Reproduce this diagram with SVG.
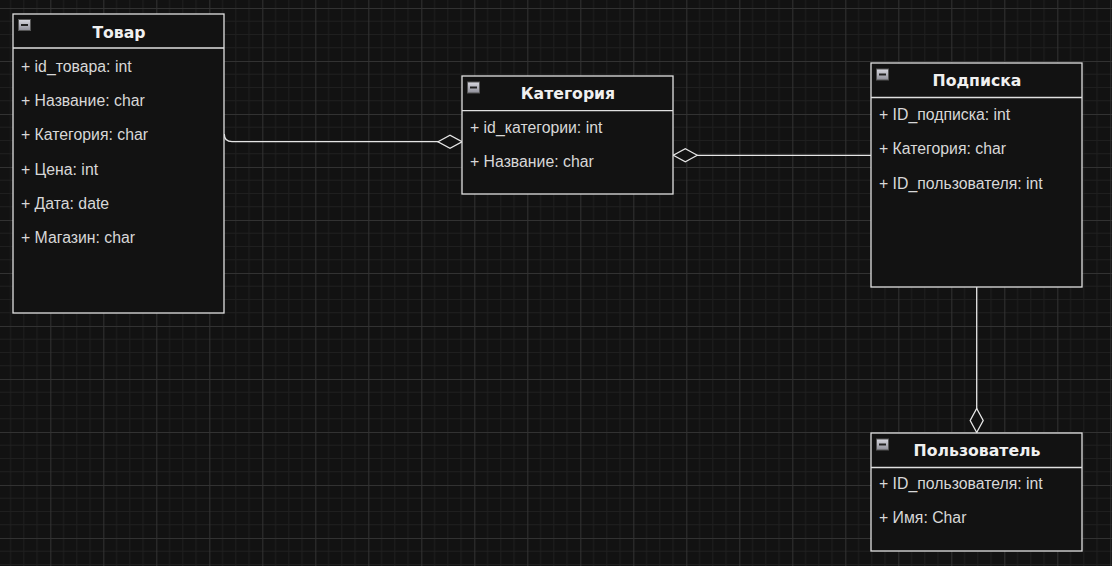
<svg xmlns="http://www.w3.org/2000/svg" width="1112" height="566" viewBox="0 0 1112 566">
<defs>
<pattern id="grid" patternUnits="userSpaceOnUse" x="50.3" y="8" width="53" height="53">
<path d="M13.25 0V53M26.5 0V53M39.75 0V53M0 13.25H53M0 26.5H53M0 39.75H53" stroke="#1f1f1f" stroke-width="1" fill="none"/>
<path d="M0.5 0V53M0 0.5H53" stroke="#323232" stroke-width="1" fill="none"/>
</pattern>
<linearGradient id="ig" x1="0" y1="0" x2="0" y2="1">
<stop offset="0" stop-color="#d8d8e0"/>
<stop offset="1" stop-color="#8e8e98"/>
</linearGradient>
<g id="icon">
<rect x="0.5" y="0.5" width="12" height="11" fill="url(#ig)" stroke="#555" stroke-width="1"/>
<rect x="3" y="5" width="7" height="2" fill="#222"/>
</g>
<marker id="dia" markerWidth="26" markerHeight="16" refX="25" refY="8" orient="auto" markerUnits="userSpaceOnUse">
<path d="M1 8 L13 1.5 L25 8 L13 14.5 Z" fill="#121212" stroke="#e6e6e6" stroke-width="1.3"/>
</marker>
</defs>
<style>
.box{fill:#121212;stroke:#e0e0e0;stroke-width:1.3}
.sep{stroke:#e0e0e0;stroke-width:1.3}
.title{font-family:"DejaVu Sans","Liberation Sans",sans-serif;font-weight:bold;font-size:15.7px;fill:#f0f0f0;text-anchor:middle}
.item{font-family:"Liberation Sans",Arial,sans-serif;font-size:15.8px;fill:#d8d8d8}
.edge{fill:none;stroke:#e6e6e6;stroke-width:1.3}
</style>
<rect width="1112" height="566" fill="#121212"/>
<rect width="1112" height="566" fill="url(#grid)"/>

<g id="connectors">
<path class="edge" d="M224.3 134 Q224.3 141.7 232 141.7 L462 141.7" marker-end="url(#dia)"/>
<path class="edge" d="M871 155.3 L673.3 155.3" marker-end="url(#dia)"/>
<path class="edge" d="M976.7 287 L976.7 432.5" marker-end="url(#dia)"/>
</g>

<g id="tovar">
<rect class="box" x="13" y="14" width="211" height="299"/>
<line class="sep" x1="13" y1="48" x2="224" y2="48"/>
<use href="#icon" x="18" y="19"/>
<text class="title" x="119" y="38">Товар</text>
<text class="item" x="21" y="72">+ id_товара: int</text>
<text class="item" x="21" y="106">+ Название: char</text>
<text class="item" x="21" y="140">+ Категория: char</text>
<text class="item" x="21" y="175">+ Цена: int</text>
<text class="item" x="21" y="209">+ Дата: date</text>
<text class="item" x="21" y="243">+ Магазин: char</text>
</g>

<g id="kategoriya">
<rect class="box" x="462" y="76" width="211" height="118"/>
<line class="sep" x1="462" y1="110.7" x2="673" y2="110.7"/>
<use href="#icon" x="467" y="81.5"/>
<text class="title" x="568" y="99">Категория</text>
<text class="item" x="470" y="133">+ id_категории: int</text>
<text class="item" x="470" y="167">+ Название: char</text>
</g>

<g id="podpiska">
<rect class="box" x="871" y="63" width="211" height="224"/>
<line class="sep" x1="871" y1="97.5" x2="1082" y2="97.5"/>
<use href="#icon" x="876" y="68.5"/>
<text class="title" x="977" y="86">Подписка</text>
<text class="item" x="879" y="120">+ ID_подписка: int</text>
<text class="item" x="879" y="154">+ Категория: char</text>
<text class="item" x="879" y="189">+ ID_пользователя: int</text>
</g>

<g id="polzovatel">
<rect class="box" x="871" y="433" width="211" height="118"/>
<line class="sep" x1="871" y1="467.5" x2="1082" y2="467.5"/>
<use href="#icon" x="876" y="438.5"/>
<text class="title" x="977" y="456">Пользователь</text>
<text class="item" x="879" y="489">+ ID_пользователя: int</text>
<text class="item" x="879" y="523">+ Имя: Char</text>
</g>
</svg>
